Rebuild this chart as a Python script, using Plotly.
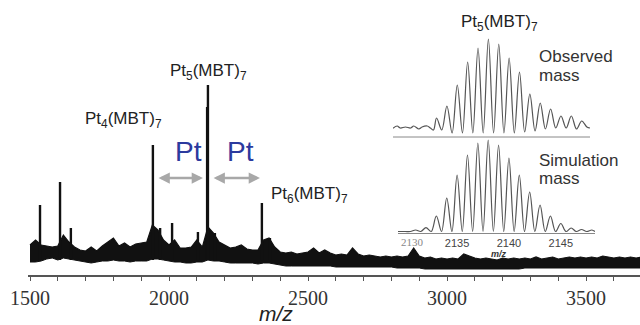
import plotly.graph_objects as go

W, H = 640, 325

# ---------------- main spectrum data ----------------
env_mz = list(range(1500, 3701, 20))
env_upper = [30, 35, 30, 29, 28, 29, 40, 33, 28, 25,
             24, 28, 24, 29, 33, 37, 29, 32, 28, 31,
             32, 33, 50, 45, 35, 30, 35, 27, 27, 28,
             35, 28, 48, 42, 33, 30, 27, 28, 30, 26,
             25, 25, 35, 37, 28, 23, 22, 23, 21, 22,
             23, 27, 22, 25, 22, 20, 21, 20, 27, 21,
             19, 20, 19, 18, 19, 18, 19, 18, 19, 27,
             19, 17, 18, 16, 17, 16, 17, 16, 21, 19,
             17, 16, 17, 16, 15, 17, 16, 17, 16, 17,
             16, 18, 16, 17, 18, 16, 17, 18, 17, 18,
             17, 18, 17, 19, 18, 17, 18, 17, 18, 17, 18]
env_lower = [13, 13, 14, 16, 17, 15, 17, 16, 15, 14,
             13, 12, 13, 14, 14, 15, 14, 14, 13, 14,
             14, 14, 16, 16, 15, 14, 13, 13, 12, 12,
             13, 13, 15, 14, 14, 13, 12, 12, 12, 12,
             12, 11, 12, 12, 11, 10, 9, 9, 9, 9,
             9, 9, 9, 9, 9, 8, 8, 8, 8, 8,
             8, 8, 8, 8, 8, 8, 7, 7, 7, 7,
             7, 6, 6, 6, 6, 6, 6, 6, 6, 6,
             6, 6, 6, 6, 6, 6, 6, 6, 6, 7,
             7, 7, 7, 7, 7, 7, 7, 7, 7, 7,
             7, 7, 7, 7, 7, 7, 7, 7, 7, 7, 7]

peak_mz = [1536, 1608, 1647, 1942, 1968, 2011, 2104, 2137, 2140, 2165, 2334, 2363]
peak_top = [70, 93, 47, 130, 47, 52, 43, 168, 190, 42, 72, 37]
peak_base = 15

main_ticks = [1500, 2000, 2500, 3000, 3500]

# Pt mass-difference arrows (m/z start, m/z end)
arrow_from = [1957, 2155]
arrow_to = [2122, 2327]
arrow_level = 97

# ---------------- inset: observed isotope pattern ----------------
obs_mz = [2128.8, 2129.2, 2129.5, 2130.0, 2130.5, 2130.8, 2131.3, 2131.6, 2132.1, 2132.4, 2132.7,
          2133, 2133.5, 2134, 2134.5, 2135, 2135.5, 2136, 2136.5, 2137, 2137.5,
          2138, 2138.5, 2139, 2139.5, 2140, 2140.5, 2141, 2141.5, 2142, 2142.5,
          2143, 2143.5, 2144, 2144.5, 2145, 2145.5, 2146, 2146.5, 2147, 2147.5, 2147.8]
obs_int = [8.7, 11, 9, 10, 9, 11, 8, 10, 11, 9, 7,
           19, 7, 31, 4, 52, 4, 75, 4, 89, 4,
           98, 4, 93, 4, 79, 4, 65, 5, 43, 6,
           34, 8, 28, 9, 21, 9, 21, 8, 16, 10, 9]

# ---------------- inset: simulated isotope pattern ----------------
sim_mz = [2129.3, 2130, 2130.5, 2131, 2131.5, 2132, 2132.5, 2133, 2133.5, 2134, 2134.5,
          2135, 2135.5, 2136, 2136.5, 2137, 2137.5, 2138, 2138.5, 2139, 2139.5,
          2140, 2140.5, 2141, 2141.5, 2142, 2142.5, 2143, 2143.5, 2144, 2144.5,
          2145, 2145.5, 2146, 2146.5, 2147, 2147.5, 2148, 2148.3]
sim_int = [1.5, 1.5, 1.5, 3, 1.5, 5.4, 1.5, 17, 1.5, 35, 1.5,
           58, 1.5, 78, 1.5, 90, 1.5, 93, 1.5, 88, 1.5,
           75, 1.5, 58, 1.5, 41, 1.5, 28, 1.5, 17, 1.5,
           9.5, 1.5, 5, 1.5, 3.5, 1.5, 3, 1.5]
inset_ticks = [2135, 2140, 2145]


def px(x):
    return x / W


def py(y):
    return 1 - y / H


fig = go.Figure()

# main spectrum noise band
fig.add_trace(go.Scatter(x=env_mz, y=env_lower, mode="lines",
                         line=dict(color="#111111", width=1), showlegend=False,
                         hoverinfo="skip"))
fig.add_trace(go.Scatter(x=env_mz, y=env_upper, mode="lines", fill="tonexty",
                         fillcolor="#111111", line=dict(color="#111111", width=1.2),
                         showlegend=False, hoverinfo="skip"))
# peaks as sticks
sx, sy = [], []
for m, t in zip(peak_mz, peak_top):
    sx += [m, m, None]
    sy += [peak_base, t, None]
fig.add_trace(go.Scatter(x=sx, y=sy, mode="lines", line=dict(color="#111111", width=2.4),
                         showlegend=False, hoverinfo="skip"))

# inset traces
fig.add_trace(go.Scatter(x=obs_mz, y=obs_int, mode="lines", line=dict(color="#555555", width=1.2, shape="spline"),
                         xaxis="x2", yaxis="y2", showlegend=False, hoverinfo="skip"))
fig.add_trace(go.Scatter(x=sim_mz, y=sim_int, mode="lines", line=dict(color="#555555", width=1.2, shape="spline"),
                         xaxis="x3", yaxis="y3", showlegend=False, hoverinfo="skip"))

hidden_y = dict(visible=True, showline=False, showticklabels=False, showgrid=False,
                zeroline=False, ticks="", automargin=False)

fig.update_layout(
    width=W, height=H,
    margin=dict(l=0, r=0, t=0, b=0, autoexpand=False),
    paper_bgcolor="white", plot_bgcolor="white",
    xaxis=dict(domain=[px(28), 1], range=[1492.8, 3694], showgrid=False, zeroline=False,
               showline=True, linecolor="#555555", linewidth=1.5, automargin=False,
               tickvals=main_ticks, ticks="outside", ticklen=4, tickcolor="#555555",
               tickfont=dict(family="Liberation Serif", size=20, color="#333333"),
               minor=dict(dtick=100, tick0=1500, ticks="outside", ticklen=4, tickcolor="#555555"),
               anchor="y"),
    yaxis=dict(domain=[py(275), py(5)], range=[0, 270], anchor="x", **hidden_y),
    xaxis2=dict(domain=[px(393), px(590)], range=[2128.8, 2147.8], showgrid=False, zeroline=False,
                showline=False, showticklabels=False, automargin=False,
                ticks="", anchor="y2"),
    yaxis2=dict(domain=[py(137), py(35)], range=[0, 102], anchor="x2", **hidden_y),
    xaxis3=dict(domain=[px(398), px(595)], range=[2129.3, 2148.3], showgrid=False, zeroline=False,
                showline=True, linecolor="#888888", linewidth=1, tickvals=inset_ticks, ticks="",
                automargin=False,
                tickfont=dict(family="Liberation Sans", size=11, color="#444444"), anchor="y3"),
    yaxis3=dict(domain=[py(233), py(135)], range=[0, 98], anchor="x3", **hidden_y),
    shapes=[dict(type="line", xref="x2 domain", yref="y2 domain", x0=0, x1=1, y0=0, y1=0,
                 line=dict(color="#888888", width=1))],
)

ann = []
sans = "Liberation Sans"


def label(text, x, y, size=17, color="#222222", family=sans, xanchor="center"):
    ann.append(dict(text=text, x=px(x), y=py(y), xref="paper", yref="paper", showarrow=False,
                    xanchor=xanchor, yanchor="middle", font=dict(family=family, size=size, color=color)))


label("Pt<sub>4</sub>(MBT)<sub>7</sub>", 123, 120)
label("Pt<sub>5</sub>(MBT)<sub>7</sub>", 208, 72)
label("Pt<sub>6</sub>(MBT)<sub>7</sub>", 309, 195)
label("Pt", 188, 151, size=28, color="#2b3a9e")
label("Pt", 240, 151, size=28, color="#2b3a9e")
label("Pt<sub>5</sub>(MBT)<sub>7</sub>", 499, 23)
label("Observed", 537, 57, xanchor="left", color="#333333")
label("mass", 537, 75, xanchor="left", color="#333333")
label("Simulation", 537, 160, xanchor="left", color="#333333")
label("mass", 537, 178, xanchor="left", color="#333333")
label("2130", 412, 242, size=11, color="#888888", family="Liberation Serif")
label("<b><i>m/z</i></b>", 499, 254, size=9, color="#333333")
label("<i>m/z</i>", 276, 313, size=21, color="#222222")

for a0, a1 in zip(arrow_from, arrow_to):
    ann.append(dict(x=a1, y=arrow_level, ax=a0, ay=arrow_level, xref="x", yref="y",
                    axref="x", ayref="y", text="", showarrow=True, arrowhead=2, startarrowhead=2,
                    arrowside="end+start", arrowsize=0.9, startarrowsize=0.9, arrowwidth=2.5,
                    arrowcolor="#a8a8a8"))

fig.update_layout(annotations=ann)
fig.write_html("out.html")
